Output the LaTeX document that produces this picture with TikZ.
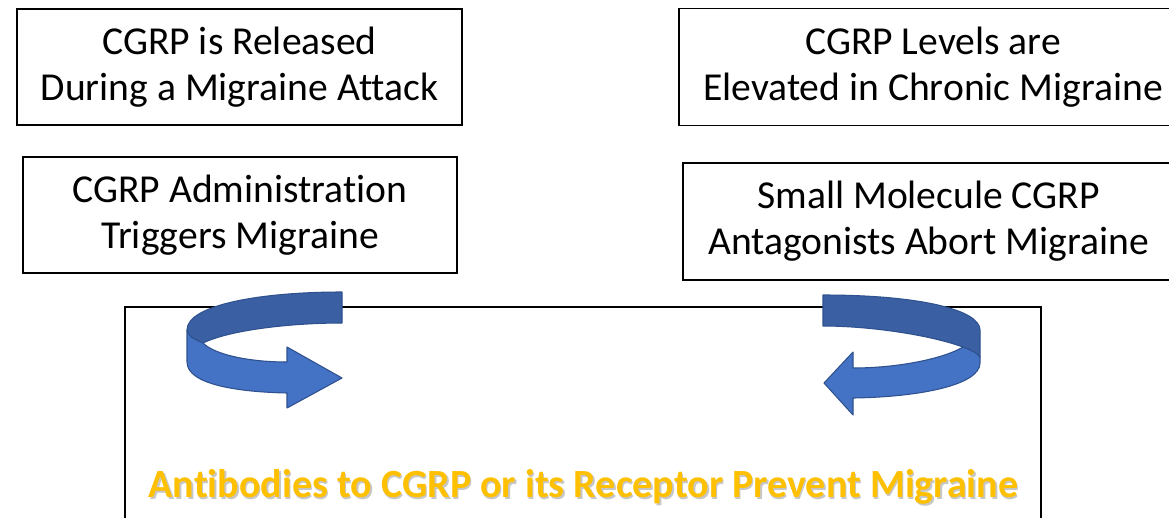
\documentclass[tikz,border=0pt]{standalone}
\usepackage{fontspec}
\setmainfont{Carlito}[Ligatures=NoCommon]
\definecolor{bandDark}{HTML}{3A5FA3}
\definecolor{bandLight}{HTML}{4472C4}
\definecolor{bandLine}{HTML}{2F528F}
\definecolor{gold}{HTML}{FFC000}
\tikzset{
  infobox/.style={draw=black, line width=1.3pt, fill=white, align=center,
    inner sep=0pt, font=\fontsize{29.7}{34.5}\selectfont},
  bigbox/.style={draw=black, line width=1.3pt, inner sep=0pt},
  darkband/.style={fill=bandDark, draw=bandLine, line width=0.8pt, line join=round},
  lightband/.style={fill=bandLight, draw=bandLine, line width=0.8pt, line join=round},
  goldtext/.style={text=gold, inner sep=0pt, font=\fontsize{30}{36}\selectfont\bfseries},
  shadowtext/.style={text=black!22, inner sep=0pt, font=\fontsize{30}{36}\selectfont\bfseries}
}
\begin{document}
\begin{tikzpicture}[x=0.75pt, y=-0.75pt]
\useasboundingbox (0,0) rectangle (1169,517);
\clip (0,0) rectangle (1169,517);
\fill[white] (0,0) rectangle (1169,517);

% big lower box
\node[bigbox, minimum width={916*0.75pt}, minimum height={260*0.75pt}, anchor=north west] (big) at (124,306) {};

% four statement boxes
\node[infobox, minimum width={445*0.75pt}, minimum height={116*0.75pt}] (rel) at (239.5,67)
  {CGRP is Released\\During a Migraine Attack};
\node[infobox, minimum width={434*0.75pt}, minimum height={116*0.75pt}] (adm) at (240,215)
  {CGRP Administration\\Triggers Migraine};
\node[infobox, minimum width={508*0.75pt}, minimum height={117*0.75pt}] (lev) at (933,67)
  {CGRP Levels are\\Elevated in Chronic Migraine};
\node[infobox, minimum width={491*0.75pt}, minimum height={117*0.75pt}] (ant) at (928.5,221.5)
  {Small Molecule CGRP\\Antagonists Abort Migraine};

% left curved arrow
\path[darkband] (342,292) .. controls (260,292) and (187,305) .. (187,330)
  .. controls (190,337) .. (203,343)
  .. controls (230,330) and (290,323) .. (342,323) -- cycle;
\path[lightband] (187,330) -- (187,362) .. controls (187,385) and (240,392) .. (287,393)
  -- (287,408) -- (342,378) -- (287,347) -- (287,362)
  .. controls (250,362) and (215,355) .. (203,343)
  .. controls (190,337) .. (187,330) -- cycle;

% right curved arrow
\path[darkband] (823,295) .. controls (920,295) and (980,310) .. (980,330)
  -- (980,357) .. controls (975,352) .. (963,347)
  .. controls (930,335) and (870,326) .. (823,326) -- cycle;
\path[lightband] (980,357) -- (980,363) .. controls (980,385) and (920,397) .. (853,398)
  -- (853,415) -- (824,383) -- (853,352) -- (853,368)
  .. controls (900,368) and (945,358) .. (963,347)
  .. controls (975,352) .. (980,357) -- cycle;

% bottom statement
\node[shadowtext] (concl-sh) at (585,489) {Antibodies to CGRP or its Receptor Prevent Migraine};
\node[goldtext] (concl) at (583.5,487) {Antibodies to CGRP or its Receptor Prevent Migraine};
\end{tikzpicture}
\end{document}
